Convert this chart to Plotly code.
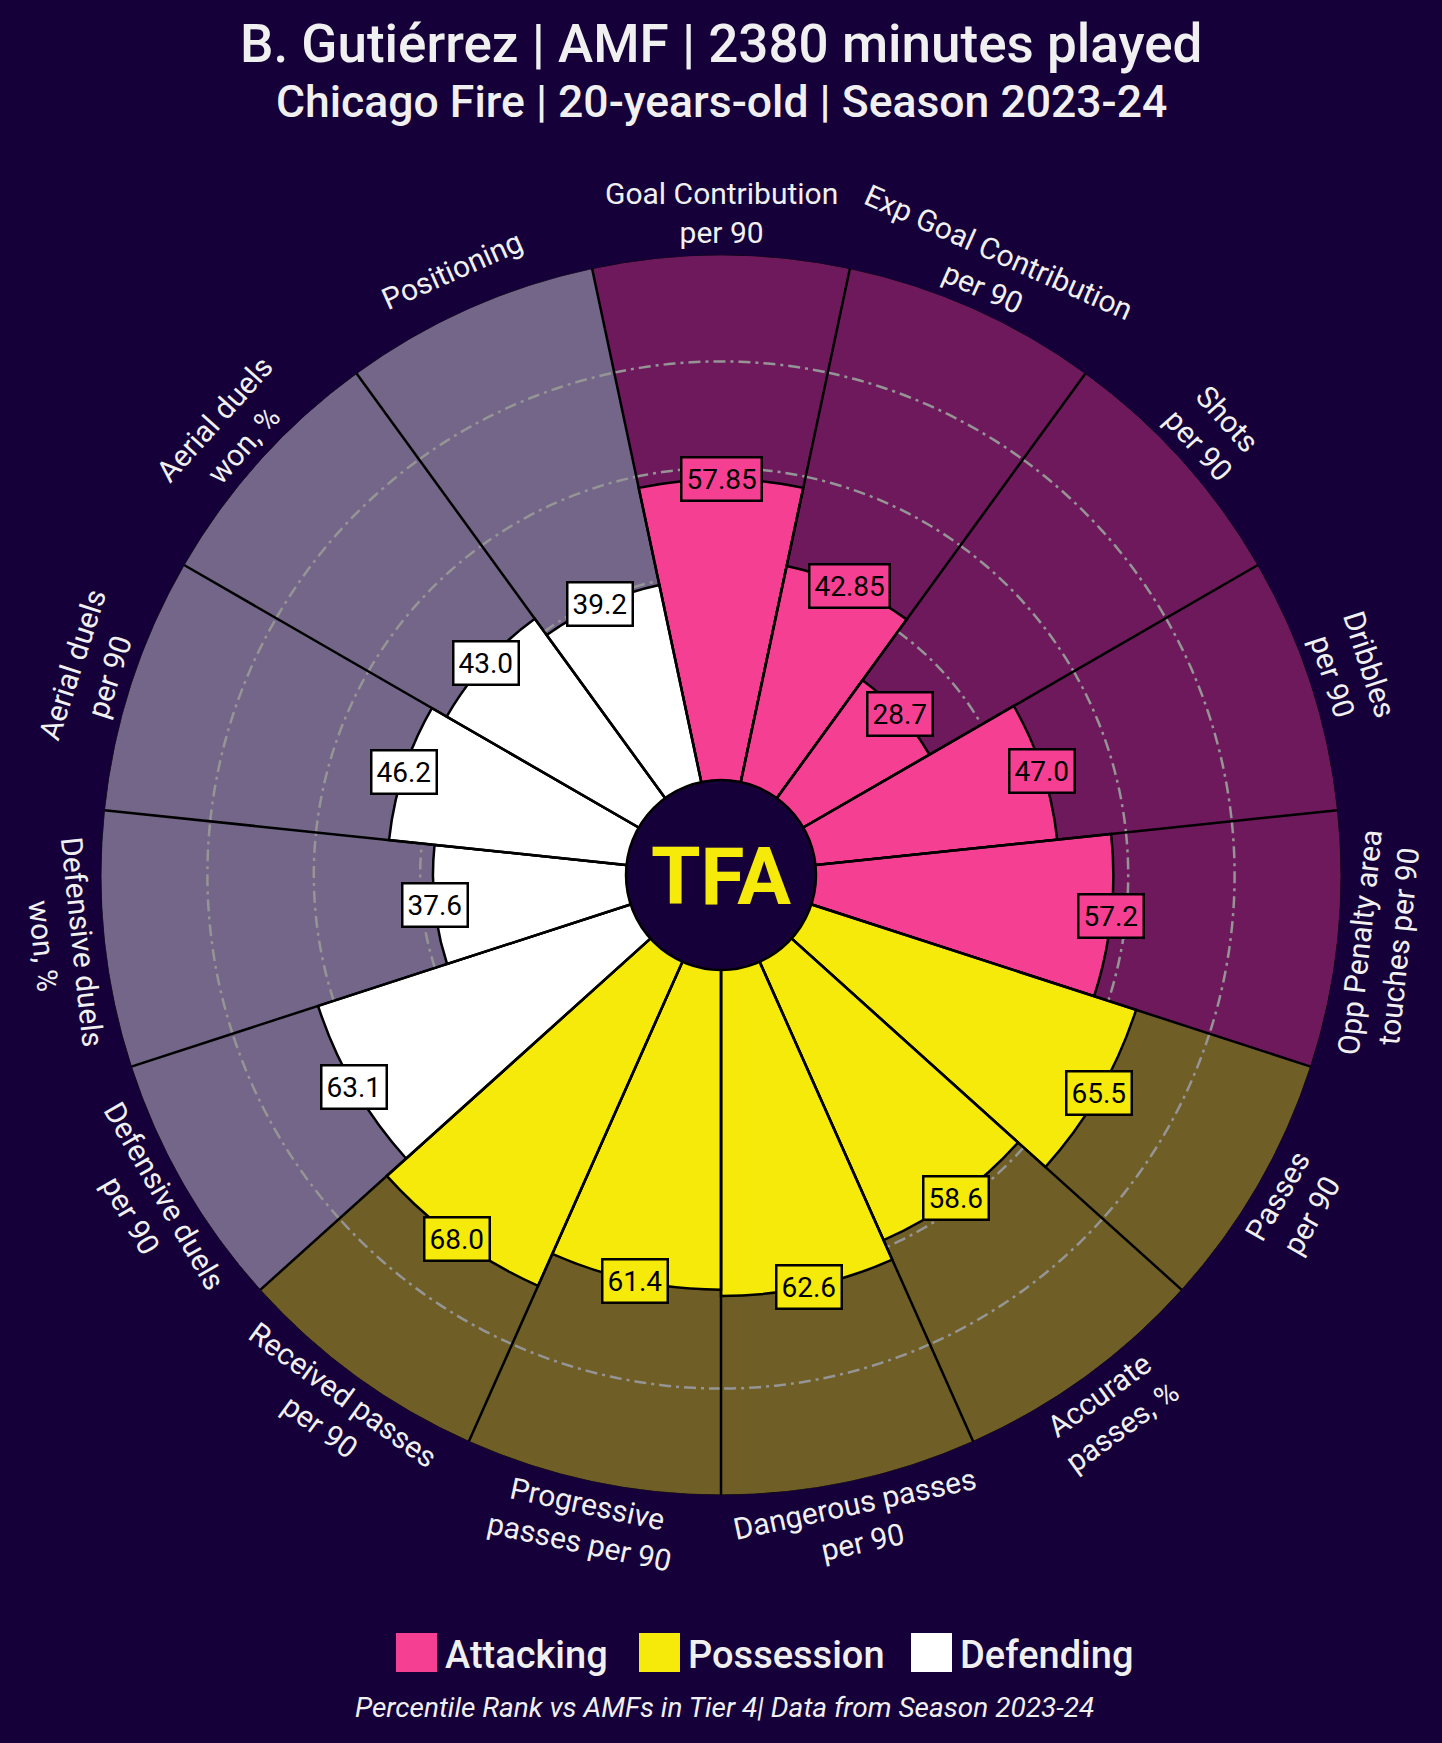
import math
import numpy as np
import plotly.graph_objects as go

# ---------------- data ----------------
categories = [
    "Goal Contribution<br>per 90",
    "Exp Goal Contribution<br>per 90",
    "Shots<br>per 90",
    "Dribbles<br>per 90",
    "Opp Penalty area<br>touches per 90",
    "Passes<br>per 90",
    "Accurate<br>passes, %",
    "Dangerous passes<br>per 90",
    "Progressive<br>passes per 90",
    "Received passes<br>per 90",
    "Defensive duels<br>per 90",
    "Defensive duels<br>won, %",
    "Aerial duels<br>per 90",
    "Aerial duels<br>won, %",
    "Positioning",
]
values = [57.85, 42.85, 28.7, 47.0, 57.2, 65.5, 58.6, 62.6, 61.4, 68.0, 63.1, 37.6, 46.2, 43.0, 39.2]
value_labels = ["57.85", "42.85", "28.7", "47.0", "57.2", "65.5", "58.6", "62.6", "61.4",
                "68.0", "63.1", "37.6", "46.2", "43.0", "39.2"]
groups = ["Attacking"] * 5 + ["Possession"] * 5 + ["Defending"] * 5
group_names = ["Attacking", "Possession", "Defending"]
grid_values = [20, 40, 60, 80]

title = "B. Gutiérrez | AMF | 2380 minutes played"
subtitle = "Chicago Fire | 20-years-old | Season 2023-24"
footer = "Percentile Rank vs AMFs in Tier 4| Data from Season 2023-24"

# ---------------- style ----------------
BG = "#16003A"
group_colors = {"Attacking": "#F43F93", "Possession": "#F5EA0A", "Defending": "#FFFFFF"}
group_bg = {"Attacking": "rgba(244,63,147,0.4)", "Possession": "rgba(245,234,10,0.4)",
            "Defending": "rgba(255,255,255,0.4)"}
FONT = "Roboto"
W, H = 1442, 1743
CX, CY = 721, 875      # pixel centre of the pizza
R = 620                # outer radius (value 100)
R0 = 88                # radius of value 0
LOGO_R = 95

n = len(categories)
step = 360 / n
thetas = [i * step for i in range(n)]
colors = [group_colors[g] for g in groups]
bgcols = [group_bg[g] for g in groups]


def paper(px, py):
    return px / W, 1 - py / H


def radius_of(v):
    return R0 + (R - R0) * v / 100.0


fig = go.Figure()

# background slices
fig.add_trace(go.Barpolar(
    r=[100] * n, theta=thetas, width=[step] * n,
    marker=dict(color=bgcols, line=dict(color="black", width=1)),
    hoverinfo="skip", showlegend=False))

# value slices
fig.add_trace(go.Barpolar(
    r=values, theta=thetas, width=[step] * n,
    marker=dict(color=colors, line=dict(color="black", width=2.5)),
    hoverinfo="skip", showlegend=False))

# dash-dot rings, only where they pass over the background part of a slice
for gv in grid_values:
    rr, tt = [], []
    for t, v in zip(thetas, values):
        if v < gv:
            arc = np.linspace(t - step / 2, t + step / 2, 40)
            rr += [gv] * len(arc) + [None]
            tt += list(arc) + [None]
    if rr:
        fig.add_trace(go.Scatterpolar(
            r=rr, theta=tt, mode="lines",
            line=dict(color="#959595", width=2.5, dash="12px,5px,3px,5px"),
            hoverinfo="skip", showlegend=False))

# spokes between slices
sp_r, sp_t = [], []
for t in thetas:
    b = t + step / 2
    sp_r += [0, 100, None]
    sp_t += [b, b, None]
fig.add_trace(go.Scatterpolar(
    r=sp_r, theta=sp_t, mode="lines", line=dict(color="black", width=2.5),
    hoverinfo="skip", showlegend=False))

annotations = []
# value labels
for t, v, lab, c in zip(thetas, values, value_labels, colors):
    rr = radius_of(v)
    a = math.radians(t)
    x, y = paper(CX + rr * math.sin(a), CY - rr * math.cos(a))
    annotations.append(dict(
        x=x, y=y, xref="paper", yref="paper", text=lab, showarrow=False,
        xanchor="center", yanchor="middle",
        font=dict(family=FONT, size=28, color="black"),
        bgcolor=c, bordercolor="black", borderwidth=2.5, borderpad=4))

# category labels
RL = 662
for t, cat in zip(thetas, categories):
    a = math.radians(t)
    x, y = paper(CX + RL * math.sin(a), CY - RL * math.cos(a))
    if t <= 90:
        ang = t
    elif t < 270:
        ang = t - 180
    else:
        ang = t - 360
    annotations.append(dict(
        x=x, y=y, xref="paper", yref="paper", text=cat, showarrow=False,
        xanchor="center", yanchor="middle", textangle=ang, align="center",
        font=dict(family=FONT, size=30, color="#F0F0F0")))

# logo text
lx, ly = paper(CX, CY + 2)
annotations.append(dict(
    x=lx, y=ly, xref="paper", yref="paper", text="<b>TFA</b>", showarrow=False,
    xanchor="center", yanchor="middle",
    font=dict(family=FONT, size=80, color="#F5EA0A", weight=900)))

# titles
tx, ty = paper(CX, 44)
annotations.append(dict(x=tx, y=ty, xref="paper", yref="paper", text=title, showarrow=False,
                        xanchor="center", yanchor="middle",
                        font=dict(family=FONT, size=53, color="#F0F0F0", weight=500)))
sx, sy = paper(CX, 102)
annotations.append(dict(x=sx, y=sy, xref="paper", yref="paper", text=subtitle, showarrow=False,
                        xanchor="center", yanchor="middle",
                        font=dict(family=FONT, size=44.5, color="#F0F0F0", weight=500)))
fx, fy = paper(724, 1707)
annotations.append(dict(x=fx, y=fy, xref="paper", yref="paper", text="<i>" + footer + "</i>",
                        showarrow=False, xanchor="center", yanchor="middle",
                        font=dict(family=FONT, size=28, color="#F0F0F0")))

# legend (squares + labels)
shapes = []
legend_x = [396, 639, 911]
for gname, lxp in zip(group_names, legend_x):
    x0, y0 = paper(lxp, 1633)
    x1, y1 = paper(lxp + 41, 1672)
    shapes.append(dict(type="rect", xref="paper", yref="paper", x0=x0, y0=y1, x1=x1, y1=y0,
                       fillcolor=group_colors[gname], line=dict(width=0)))
    ax, ay = paper(lxp + 47, 1655)
    annotations.append(dict(x=ax, y=ay, xref="paper", yref="paper", text=gname, showarrow=False,
                            xanchor="left", yanchor="middle",
                            font=dict(family=FONT, size=38, color="#F0F0F0", weight=500)))

# central logo circle
cx0, cy0 = paper(CX - LOGO_R, CY + LOGO_R)
cx1, cy1 = paper(CX + LOGO_R, CY - LOGO_R)
shapes.append(dict(type="circle", xref="paper", yref="paper", x0=cx0, y0=cy0, x1=cx1, y1=cy1,
                   fillcolor=BG, line=dict(color="black", width=2.5), layer="above"))

fig.update_layout(
    width=W, height=H,
    margin=dict(l=0, r=0, t=0, b=0),
    paper_bgcolor=BG, plot_bgcolor=BG,
    showlegend=False,
    polar=dict(
        domain=dict(x=[(CX - R) / W, (CX + R) / W], y=[1 - (CY + R) / H, 1 - (CY - R) / H]),
        bgcolor="rgba(0,0,0,0)",
        hole=R0 / R,
        barmode="overlay",
        radialaxis=dict(range=[0, 100], visible=False, showgrid=False),
        angularaxis=dict(type="linear", rotation=90, direction="clockwise", thetaunit="degrees",
                         showgrid=False, showticklabels=False, ticks="", showline=False),
    ),
    annotations=annotations,
    shapes=shapes,
)

fig.write_html("out.html", config={"displayModeBar": False},
               post_script="document.body.style.margin='0';document.body.style.overflow='hidden';")
